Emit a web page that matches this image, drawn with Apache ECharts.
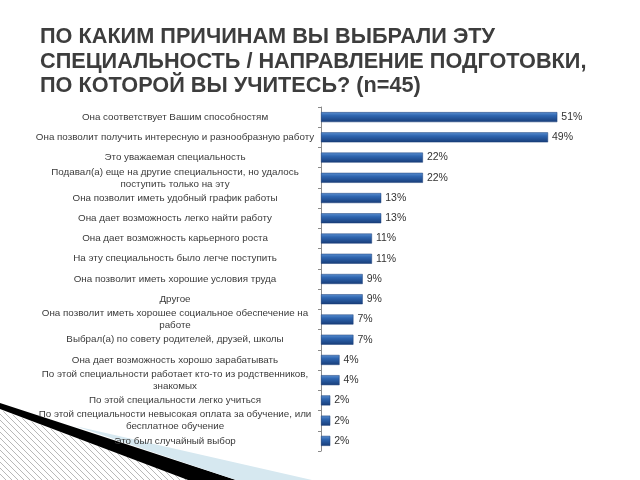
<!DOCTYPE html>
<html><head><meta charset="utf-8">
<script src="https://cdn.jsdelivr.net/npm/echarts@6/dist/echarts.min.js"></script>
<style>html,body{margin:0;padding:0;background:#fff}#c{width:640px;height:480px}</style>
</head><body><div id="c"></div>
<script>
var titleLines = ['ПО КАКИМ ПРИЧИНАМ ВЫ ВЫБРАЛИ ЭТУ', 'СПЕЦИАЛЬНОСТЬ / НАПРАВЛЕНИЕ ПОДГОТОВКИ,', 'ПО КОТОРОЙ ВЫ УЧИТЕСЬ? (n=45)'];
var categories = [
  'Она соответствует Вашим способностям',
  'Она позволит получить интересную и разнообразную работу',
  'Это уважаемая специальность',
  'Подавал(а) еще на другие специальности, но удалось\nпоступить только на эту',
  'Она позволит иметь удобный график работы',
  'Она дает возможность легко найти работу',
  'Она дает возможность карьерного роста',
  'На эту специальность было легче поступить',
  'Она позволит иметь хорошие условия труда',
  'Другое',
  'Она позволит иметь хорошее социальное обеспечение на\nработе',
  'Выбрал(а) по совету родителей, друзей, школы',
  'Она дает возможность хорошо зарабатывать',
  'По этой специальности работает кто-то из родственников,\nзнакомых',
  'По этой специальности легко учиться',
  'По этой специальности невысокая оплата за обучение, или\nбесплатное обучение',
  'Это был случайный выбор'
];
var values = [51, 49, 22, 22, 13, 13, 11, 11, 9, 9, 7, 7, 4, 4, 2, 2, 2];

// hatch pattern
var pc = document.createElement('canvas');
pc.width = 6; pc.height = 6;
var px = pc.getContext('2d');
px.fillStyle = '#fff'; px.fillRect(0,0,6,6);
px.strokeStyle = '#b8b8b8'; px.lineWidth = 1;
px.beginPath(); px.moveTo(0,0); px.lineTo(6,6); px.moveTo(-3,3); px.lineTo(3,9); px.moveTo(3,-3); px.lineTo(9,3); px.stroke();

var chart = echarts.init(document.getElementById('c'));
chart.setOption({
  backgroundColor: '#fff',
  animation: false,
  graphic: [
    {type:'polygon', z:-10, shape:{points:[[0,410],[190,480],[0,480]]}, style:{fill:{image:pc, repeat:'repeat'}}},
    {type:'polygon', z:-9, shape:{points:[[0,403],[236,480],[188,480],[0,409]]}, style:{fill:'#000'}},
    {type:'polygon', z:-9, shape:{points:[[75,426],[312,480],[236,480]]}, style:{fill:'#d6e8f0'}},
    {type:'text', left:40, top:25, style:{text:titleLines.join('\n'), font:'bold 21.7px "Liberation Sans", Arial, sans-serif', fill:'#3d3d3d', lineHeight:24.5}}
  ],
  grid: {left: 321, top: 107, width: 278, height: 344},
  xAxis: {type:'value', min:0, max:60, show:false},
  yAxis: {
    type:'category', data: categories, inverse: true,
    axisLine:{show:true, lineStyle:{color:'#8a8a8a', width:1}},
    axisTick:{show:true, length:3, lineStyle:{color:'#8a8a8a'}},
    axisLabel:{margin:146, align:'center', color:'#3a3a3a', fontSize:9.8, fontFamily:'"Liberation Sans", Arial, sans-serif', lineHeight:12, interval:0}
  },
  series: [{
    type:'bar', data: values, barWidth: 10,
    itemStyle:{
      color: new echarts.graphic.LinearGradient(0,0,0,1,[
        {offset:0, color:'#5b8fd0'},{offset:0.35, color:'#2f66b0'},{offset:1, color:'#173c78'}
      ]),
      borderColor:'#1b3f78', borderWidth:0.5
    },
    label:{show:true, position:'right', distance:4, formatter:'{c}%', color:'#333', fontSize:10.5, fontFamily:'"Liberation Sans", Arial, sans-serif'}
  }]
});
</script></body></html>
